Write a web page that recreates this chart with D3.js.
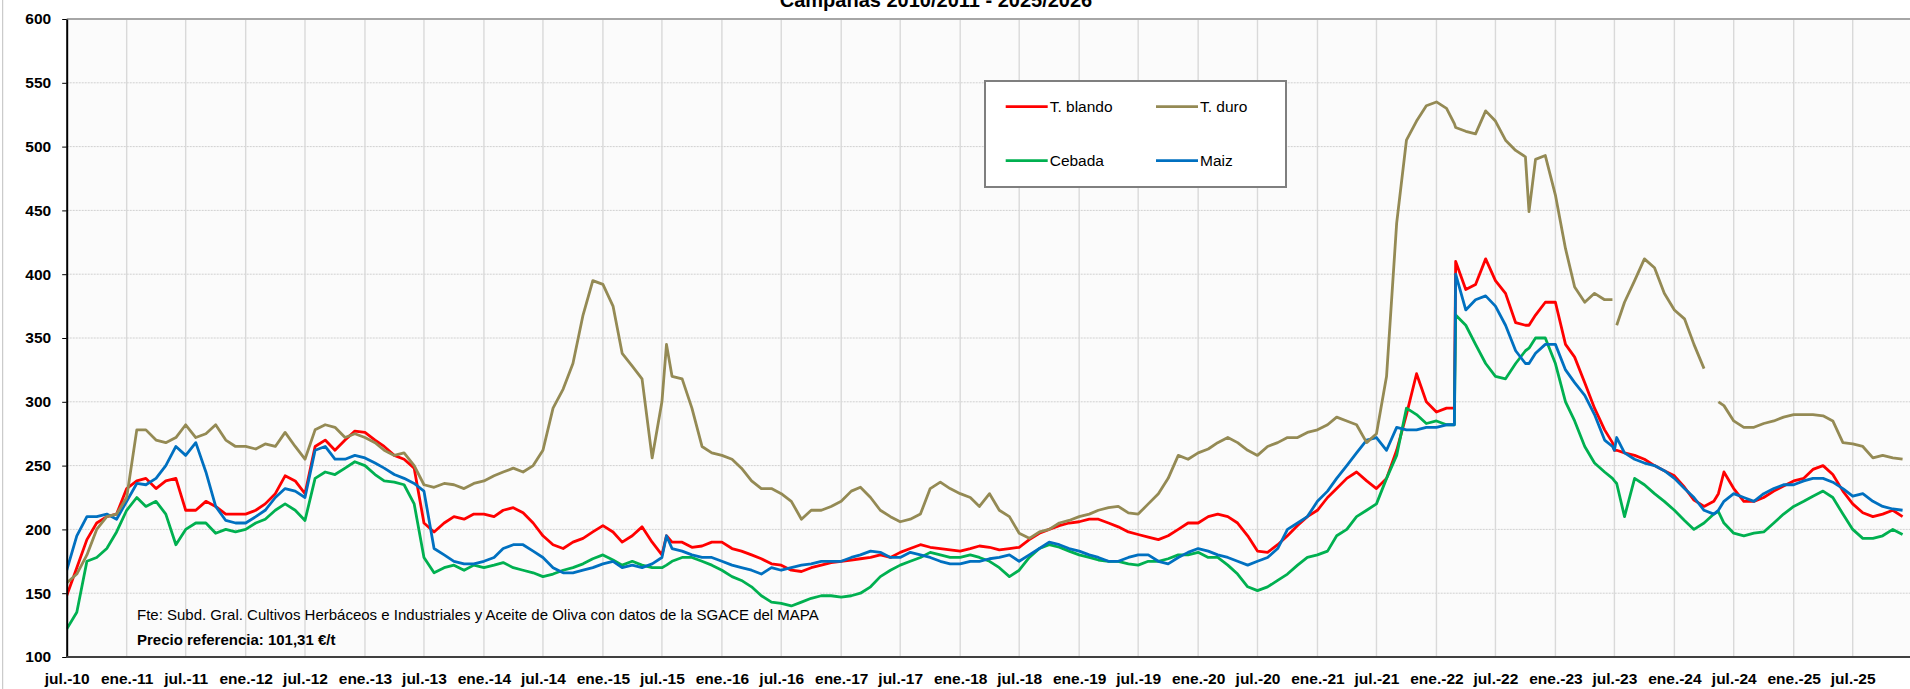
<!DOCTYPE html>
<html>
<head>
<meta charset="utf-8">
<script src="https://cdn.jsdelivr.net/npm/d3@7"></script>
<style>
  body { margin: 0; background: #fff; }
  svg { display: block; font-family: "Liberation Sans", Arial, sans-serif; }
</style>
</head>
<body>
<svg id="chart"></svg>
<script>
// fechas (mensuales + algunos puntos intermedios)
const fechas = [
  '2010-07-01','2010-08-01','2010-09-01','2010-10-01','2010-11-01','2010-12-01',
  '2011-01-01','2011-02-01','2011-03-01','2011-04-01','2011-05-01','2011-06-01','2011-07-01','2011-08-01','2011-09-01','2011-10-01','2011-11-01','2011-12-01',
  '2012-01-01','2012-02-01','2012-03-01','2012-04-01','2012-05-01','2012-06-01','2012-07-01','2012-08-01','2012-09-01','2012-10-01','2012-11-01','2012-12-01',
  '2013-01-01','2013-02-01','2013-03-01','2013-04-01','2013-05-01','2013-06-01','2013-07-01','2013-08-01','2013-09-01','2013-10-01','2013-11-01','2013-12-01',
  '2014-01-01','2014-02-01','2014-03-01','2014-04-01','2014-05-01','2014-06-01','2014-07-01','2014-08-01','2014-09-01','2014-10-01','2014-11-01','2014-12-01',
  '2015-01-01','2015-02-01','2015-03-01','2015-04-01','2015-05-01','2015-06-01','2015-07-01','2015-07-15','2015-08-01','2015-09-01','2015-10-01','2015-11-01','2015-12-01',
  '2016-01-01','2016-02-01','2016-03-01','2016-04-01','2016-05-01','2016-06-01','2016-07-01','2016-08-01','2016-09-01','2016-10-01','2016-11-01','2016-12-01',
  '2017-01-01','2017-02-01','2017-03-01','2017-04-01','2017-05-01','2017-06-01','2017-07-01','2017-08-01','2017-09-01','2017-10-01','2017-11-01','2017-12-01',
  '2018-01-01','2018-02-01','2018-03-01','2018-04-01','2018-05-01','2018-06-01','2018-07-01','2018-08-01','2018-09-01','2018-10-01','2018-11-01','2018-12-01',
  '2019-01-01','2019-02-01','2019-03-01','2019-04-01','2019-05-01','2019-06-01','2019-07-01','2019-08-01','2019-09-01','2019-10-01','2019-11-01','2019-12-01',
  '2020-01-01','2020-02-01','2020-03-01','2020-04-01','2020-05-01','2020-06-01','2020-07-01','2020-08-01','2020-09-01','2020-10-01','2020-11-01','2020-12-01',
  '2021-01-01','2021-02-01','2021-03-01','2021-04-01','2021-05-01','2021-06-01','2021-07-01','2021-08-01','2021-09-01','2021-10-01','2021-11-01','2021-12-01',
  '2022-01-01','2022-02-01','2022-02-25','2022-03-01','2022-04-01','2022-05-01','2022-06-01','2022-07-01','2022-08-01','2022-09-01','2022-10-01','2022-10-12','2022-11-01','2022-12-01',
  '2023-01-01','2023-02-01','2023-03-01','2023-04-01','2023-05-01','2023-06-01','2023-06-25','2023-07-01','2023-07-08','2023-08-01','2023-09-01','2023-10-01','2023-11-01','2023-12-01',
  '2024-01-01','2024-02-01','2024-03-01','2024-04-01','2024-05-01','2024-05-15','2024-06-01','2024-07-01','2024-08-01','2024-09-01','2024-10-01','2024-11-01','2024-12-01',
  '2025-01-01','2025-02-01','2025-03-01','2025-04-01','2025-05-01','2025-06-01','2025-07-01','2025-08-01','2025-09-01','2025-10-01','2025-11-01','2025-12-01'
];

const tBlando = [
  148,170,192,205,210,212,
  232,238,240,232,238,240,215,215,222,218,212,212,
  212,215,220,228,242,238,228,265,270,262,270,277,
  276,270,265,258,255,248,205,198,205,210,208,212,
  212,210,215,217,213,205,195,188,185,190,193,198,
  203,198,190,195,202,190,180,195,190,190,186,187,190,
  190,185,183,180,177,173,172,168,167,170,172,174,
  175,176,177,178,180,178,182,185,188,186,185,184,
  183,185,187,186,184,185,186,192,197,200,203,205,
  206,208,208,205,202,198,196,194,192,195,200,205,
  205,210,212,210,205,195,183,182,188,195,203,210,
  215,225,232,240,245,238,232,240,262,290,322,300,
  292,295,295,410,388,392,412,395,385,362,360,360,368,378,
  378,345,335,315,295,278,268,262,262,260,258,255,250,246,
  242,233,223,218,222,228,245,232,222,222,225,230,234,
  238,240,247,250,243,230,220,213,210,212,215,210
];

const tDuro = [
  158,165,180,200,210,212,
  225,278,278,270,268,272,282,272,275,282,270,265,
  265,263,267,265,276,265,255,278,282,280,272,275,
  272,268,262,258,260,250,235,233,236,235,232,236,
  238,242,245,248,245,250,262,295,310,330,368,395,
  392,375,338,328,318,256,300,345,320,318,295,265,260,
  258,255,248,238,232,232,228,222,208,215,215,218,
  222,230,233,225,215,210,206,208,212,232,237,232,
  228,225,218,228,215,210,197,193,198,200,205,207,
  210,212,215,217,218,213,212,220,228,240,258,255,
  260,263,268,272,268,262,258,265,268,272,272,276,
  278,282,288,285,282,268,275,320,440,505,520,532,
  535,530,518,515,512,510,528,520,505,497,492,449,490,493,
  462,420,390,378,385,380,380,null,360,378,395,412,405,385,
  372,365,345,326,null,300,297,285,280,280,283,285,288,
  290,290,290,289,285,268,267,265,256,258,256,255
];

const cebada = [
  122,135,175,178,185,198,
  215,225,218,222,212,188,200,205,205,197,200,198,
  200,205,208,215,220,215,207,240,245,243,248,253,
  250,243,238,237,235,220,178,166,170,172,168,172,
  170,172,174,170,168,166,163,165,168,170,173,177,
  180,176,172,175,172,170,170,172,175,178,178,175,172,
  168,163,160,155,148,143,142,140,143,146,148,148,
  147,148,150,155,163,168,172,175,178,182,180,178,
  178,180,178,175,170,163,168,178,185,188,186,183,
  180,178,176,175,175,173,172,175,175,177,180,180,
  182,178,178,172,165,155,152,155,160,165,172,178,
  180,183,195,200,210,215,220,240,258,295,290,283,
  285,282,282,368,360,345,330,320,318,330,340,342,350,350,
  330,300,285,265,252,245,240,238,236,210,240,235,228,222,
  215,207,200,205,212,214,205,197,195,197,198,205,212,
  218,222,226,230,225,212,200,193,193,195,200,196
];

const maiz = [
  168,195,210,210,212,208,
  222,236,235,240,250,265,258,268,245,218,207,205,
  205,210,215,225,232,230,225,262,265,255,255,258,
  256,252,248,243,240,236,230,185,180,175,173,173,
  175,178,185,188,188,183,178,170,166,166,168,170,
  173,175,170,172,170,173,178,195,185,183,180,178,178,
  175,172,170,168,165,170,168,170,172,173,175,175,
  175,178,180,183,182,178,178,182,180,178,175,173,
  173,175,175,177,178,180,175,180,185,190,188,185,
  183,180,178,175,175,178,180,180,175,173,178,182,
  185,183,180,178,175,172,175,178,185,200,205,210,
  222,230,240,250,260,270,272,262,280,278,278,280,
  280,282,282,400,372,380,383,375,360,340,330,330,338,345,
  345,325,315,305,290,270,265,262,272,260,255,252,250,246,
  240,232,225,215,212,215,222,228,225,222,228,232,235,
  235,238,240,240,237,232,226,228,222,218,216,215
];

const yTicks = [100,150,200,250,300,350,400,450,500,550,600];

const xTickFechas = [
  '2010-07-01','2011-01-01','2011-07-01','2012-01-01','2012-07-01','2013-01-01','2013-07-01','2014-01-01',
  '2014-07-01','2015-01-01','2015-07-01','2016-01-01','2016-07-01','2017-01-01','2017-07-01','2018-01-01',
  '2018-07-01','2019-01-01','2019-07-01','2020-01-01','2020-07-01','2021-01-01','2021-07-01','2022-01-01',
  '2022-07-01','2023-01-01','2023-07-01','2024-01-01','2024-07-01','2025-01-01','2025-07-01','2026-01-01'
];
const xTickLabels = [
  'jul.-10','ene.-11','jul.-11','ene.-12','jul.-12','ene.-13','jul.-13','ene.-14',
  'jul.-14','ene.-15','jul.-15','ene.-16','jul.-16','ene.-17','jul.-17','ene.-18',
  'jul.-18','ene.-19','jul.-19','ene.-20','jul.-20','ene.-21','jul.-21','ene.-22',
  'jul.-22','ene.-23','jul.-23','ene.-24','jul.-24','ene.-25','jul.-25',''
];

const seriesNames = ['T. blando','T. duro','Cebada','Maiz'];
const seriesColors = ['#ff0000','#948a54','#00b050','#0070c0'];

// ---------------------------------------------------------------
const W = 1910, H = 689;
const plotL = 66.7, plotT = 19, plotB = 657, plotR = 1915;
const parse = d3.timeParse('%Y-%m-%d');
const dates = fechas.map(parse);

const svg = d3.select('#chart').attr('width', W).attr('height', H);

const x = d3.scaleTime()
  .domain([parse('2010-07-01'), parse('2025-07-01')])
  .range([plotL, 1852.7]);
const y = d3.scaleLinear().domain([100, 600]).range([plotB, plotT]);

// borde del grafico
svg.append('line').attr('x1', 2.7).attr('x2', 2.7).attr('y1', 0).attr('y2', H)
  .attr('stroke', '#bfbfbf').attr('stroke-width', 1);

// area de trazado
svg.append('rect').attr('x', plotL).attr('y', plotT)
  .attr('width', plotR - plotL).attr('height', plotB - plotT)
  .attr('fill', '#fbfbfb');

// rejilla horizontal
svg.append('g').selectAll('line')
  .data(yTicks.filter(v => v > 100 && v < 600))
  .join('line')
  .attr('x1', plotL).attr('x2', plotR)
  .attr('y1', d => y(d)).attr('y2', d => y(d))
  .attr('stroke', '#d0d0d0').attr('stroke-width', 1)
  .attr('stroke-dasharray', '2,1');

// rejilla vertical
svg.append('g').selectAll('line')
  .data(xTickFechas.slice(1).map(parse))
  .join('line')
  .attr('x1', d => x(d)).attr('x2', d => x(d))
  .attr('y1', plotT).attr('y2', plotB)
  .attr('stroke', '#d9d9d9').attr('stroke-width', 1.4);

// borde superior
svg.append('line').attr('x1', plotL).attr('x2', plotR)
  .attr('y1', plotT).attr('y2', plotT)
  .attr('stroke', '#a6a6a6').attr('stroke-width', 2);

// lineas
svg.append('clipPath').attr('id', 'clip')
  .append('rect').attr('x', plotL).attr('y', plotT)
  .attr('width', plotR - plotL).attr('height', plotB - plotT);

const line = d3.line()
  .defined(d => d.v != null)
  .x(d => x(d.date))
  .y(d => y(d.v));

const allValues = [tBlando, tDuro, cebada, maiz];
const drawOrder = [0, 2, 3, 1];
const gLines = svg.append('g').attr('clip-path', 'url(#clip)');
drawOrder.forEach(k => {
  const pts = dates.map((d, i) => ({ date: d, v: allValues[k][i] }));
  gLines.append('path')
    .datum(pts)
    .attr('d', line)
    .attr('fill', 'none')
    .attr('stroke', seriesColors[k])
    .attr('stroke-width', 2.8)
    .attr('stroke-linejoin', 'round');
});

// eje Y
const yAxis = svg.append('g')
  .attr('transform', `translate(${plotL},0)`)
  .call(d3.axisLeft(y).tickValues(yTicks).tickSize(4.5).tickPadding(11).tickSizeOuter(0));
yAxis.select('.domain').attr('stroke', '#000').attr('stroke-width', 2);
yAxis.selectAll('.tick line').attr('stroke', '#000').attr('stroke-width', 1);
yAxis.selectAll('.tick text')
  .style('font-size', '15.5px').style('font-weight', 'bold').attr('fill', '#000');

// eje X
const xAxis = svg.append('g')
  .attr('transform', `translate(0,${plotB})`)
  .call(d3.axisBottom(x)
    .tickValues(xTickFechas.map(parse))
    .tickFormat((d, i) => xTickLabels[i])
    .tickSize(0).tickPadding(16));
xAxis.select('.domain').attr('stroke', '#404040').attr('stroke-width', 2)
  .attr('d', `M${plotL},0H${plotR}`);
xAxis.selectAll('.tick text')
  .style('font-size', '15.5px').style('font-weight', 'bold').attr('fill', '#000');

// titulo (cortado en el borde superior)
svg.append('text')
  .attr('x', 936).attr('y', 7)
  .attr('text-anchor', 'middle')
  .style('font-size', '20px').style('font-weight', 'bold')
  .text('Campañas 2010/2011 - 2025/2026');

// leyenda
const leg = svg.append('g');
leg.append('rect').attr('x', 985).attr('y', 81).attr('width', 301).attr('height', 106)
  .attr('fill', '#fff').attr('stroke', '#7f7f7f').attr('stroke-width', 2);
const legX = [1005.7, 1156, 1005.7, 1156];
const legY = [106.7, 106.7, 160.7, 160.7];
seriesNames.forEach((name, k) => {
  leg.append('line')
    .attr('x1', legX[k]).attr('x2', legX[k] + 42)
    .attr('y1', legY[k]).attr('y2', legY[k])
    .attr('stroke', seriesColors[k]).attr('stroke-width', 2.8);
  leg.append('text')
    .attr('x', legX[k] + 44).attr('y', legY[k] + 5.5)
    .style('font-size', '15.5px')
    .text(name);
});

// notas
svg.append('text')
  .attr('x', 137).attr('y', 620)
  .style('font-size', '15px')
  .text('Fte: Subd. Gral. Cultivos Herbáceos e Industriales y Aceite de Oliva con datos de la SGACE del MAPA');
svg.append('text')
  .attr('x', 137).attr('y', 645)
  .style('font-size', '15px').style('font-weight', 'bold')
  .text('Precio referencia: 101,31 €/t');
</script>
</body>
</html>
